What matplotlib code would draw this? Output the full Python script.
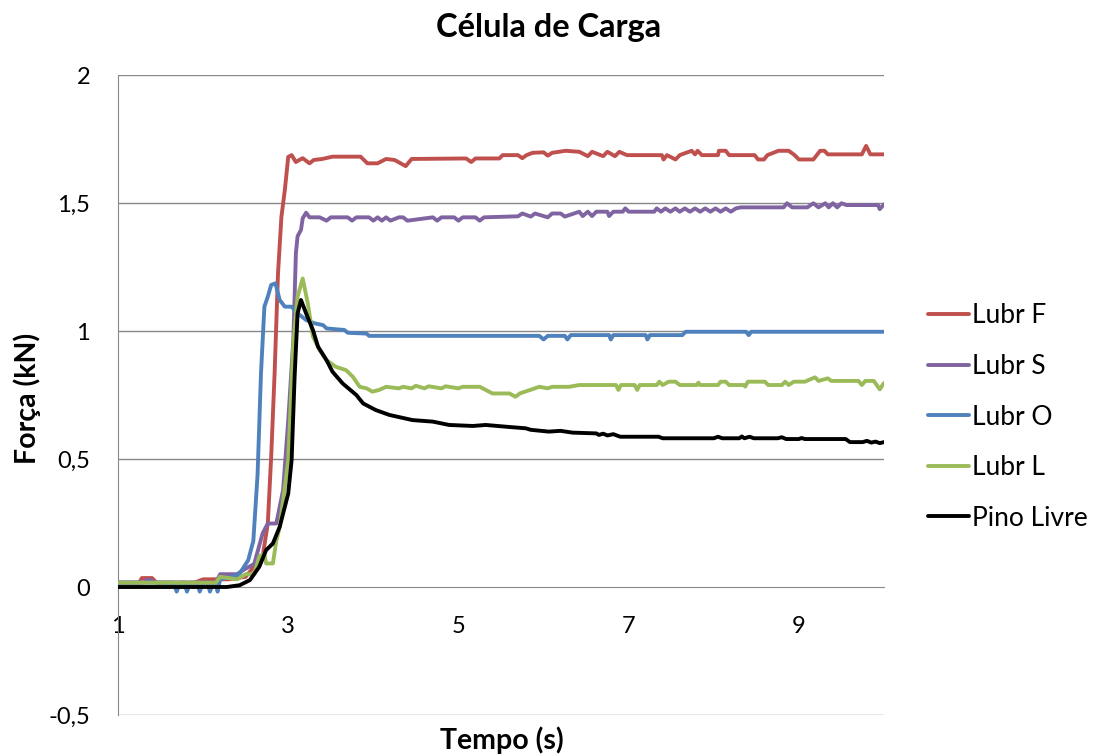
import matplotlib
matplotlib.use("Agg")
import matplotlib.pyplot as plt

plt.rcParams['font.family'] = ['Lato', 'DejaVu Sans']

# Lubr F
t_f = [1.00, 1.25, 1.28, 1.40, 1.45, 1.50, 1.90, 2.00, 2.30, 2.50, 2.70, 2.76, 2.80, 2.84, 2.88,
       2.92, 2.96, 3.00, 3.04, 3.09, 3.13, 3.17, 3.25, 3.30, 3.40, 3.52, 3.85, 3.93, 4.05, 4.15,
       4.25, 4.38, 4.45, 5.09, 5.15, 5.20, 5.48, 5.52, 5.70, 5.75, 5.80, 5.87, 6.00, 6.05, 6.10,
       6.26, 6.42, 6.52, 6.57, 6.70, 6.75, 6.84, 6.89, 6.98, 7.39, 7.41, 7.45, 7.55, 7.60, 7.74,
       7.78, 7.81, 7.86, 8.05, 8.06, 8.14, 8.18, 8.48, 8.52, 8.59, 8.63, 8.76, 8.88, 8.95, 9.00,
       9.17, 9.25, 9.30, 9.34, 9.74, 9.79, 9.84, 10.00]
v_f = [0.017, 0.017, 0.035, 0.035, 0.017, 0.017, 0.017, 0.03, 0.03, 0.04, 0.12, 0.248, 0.51, 0.835, 1.225,
       1.446, 1.55, 1.68, 1.687, 1.66, 1.668, 1.675, 1.655, 1.668, 1.672, 1.681, 1.681, 1.655, 1.655, 1.672,
       1.668, 1.644, 1.672, 1.674, 1.66, 1.674, 1.674, 1.687, 1.687, 1.675, 1.687, 1.696, 1.698, 1.685, 1.696,
       1.704, 1.700, 1.683, 1.700, 1.683, 1.700, 1.683, 1.700, 1.687, 1.687, 1.670, 1.687, 1.670, 1.687, 1.704,
       1.690, 1.704, 1.687, 1.687, 1.704, 1.704, 1.687, 1.687, 1.670, 1.670, 1.687, 1.704, 1.704, 1.687, 1.670,
       1.670, 1.704, 1.704, 1.690, 1.690, 1.723, 1.690, 1.690]

# Lubr S
t_s = [1.00, 1.30, 1.35, 1.45, 2.15, 2.20, 2.40, 2.47, 2.60, 2.70, 2.76, 2.86, 2.94, 3.00, 3.06,
       3.09, 3.11, 3.15, 3.17, 3.21, 3.25, 3.37, 3.45, 3.50, 3.70, 3.75, 3.80, 3.95, 4.00, 4.05,
       4.10, 4.15, 4.20, 4.30, 4.35, 4.40, 4.70, 4.75, 4.80, 4.95, 5.00, 5.05, 5.20, 5.25, 5.30,
       5.70, 5.75, 5.85, 5.90, 6.05, 6.10, 6.20, 6.25, 6.42, 6.46, 6.52, 6.57, 6.62, 6.75, 6.77,
       6.82, 6.93, 6.96, 7.00, 7.30, 7.33, 7.38, 7.43, 7.49, 7.55, 7.60, 7.66, 7.72, 7.78, 7.84,
       7.90, 7.96, 8.02, 8.08, 8.14, 8.20, 8.26, 8.32, 8.82, 8.86, 8.92, 9.10, 9.17, 9.23, 9.31,
       9.35, 9.40, 9.45, 9.50, 9.56, 9.93, 9.95, 10.00]
v_s = [0.017, 0.017, 0.03, 0.017, 0.017, 0.05, 0.05, 0.066, 0.09, 0.21, 0.248, 0.248, 0.379, 0.65, 0.965,
       1.303, 1.37, 1.395, 1.44, 1.462, 1.444, 1.444, 1.431, 1.444, 1.444, 1.431, 1.444, 1.444, 1.431, 1.444,
       1.431, 1.444, 1.431, 1.444, 1.444, 1.431, 1.444, 1.431, 1.444, 1.444, 1.431, 1.444, 1.444, 1.431, 1.444,
       1.448, 1.459, 1.447, 1.459, 1.444, 1.459, 1.459, 1.447, 1.466, 1.449, 1.466, 1.449, 1.466, 1.466, 1.449,
       1.466, 1.466, 1.479, 1.466, 1.466, 1.479, 1.466, 1.479, 1.466, 1.479, 1.466, 1.479, 1.466, 1.479, 1.466,
       1.479, 1.466, 1.479, 1.466, 1.479, 1.466, 1.479, 1.483, 1.483, 1.499, 1.483, 1.483, 1.499, 1.483, 1.499,
       1.483, 1.499, 1.483, 1.499, 1.492, 1.492, 1.476, 1.495]

# Lubr O
t_o = [1.00, 1.65, 1.69, 1.73, 1.78, 1.81, 1.85, 1.93, 1.96, 2.00, 2.05, 2.08, 2.12, 2.15, 2.17,
       2.20, 2.35, 2.43, 2.53, 2.59, 2.64, 2.68, 2.72, 2.76, 2.80, 2.85, 2.90, 2.96, 3.04, 3.11,
       3.21, 3.31, 3.41, 3.45, 3.66, 3.70, 3.92, 3.95, 5.95, 6.00, 6.05, 6.25, 6.28, 6.32, 6.77,
       6.79, 6.82, 7.20, 7.22, 7.25, 7.63, 7.67, 8.38, 8.41, 8.44, 10.00]
v_o = [0.017, 0.017, -0.018, 0.017, 0.017, -0.018, 0.017, 0.017, -0.018, 0.017, 0.017, -0.018, 0.017, 0.017, -0.018,
       0.03, 0.04, 0.053, 0.105, 0.18, 0.44, 0.835, 1.095, 1.134, 1.18, 1.186, 1.121, 1.095, 1.095, 1.069,
       1.043, 1.03, 1.023, 1.01, 1.004, 0.993, 0.99, 0.981, 0.981, 0.967, 0.981, 0.981, 0.967, 0.984, 0.984,
       0.967, 0.984, 0.984, 0.967, 0.984, 0.984, 0.997, 0.997, 0.984, 0.997, 0.997]

# Lubr L
t_l = [1.00, 2.15, 2.20, 2.40, 2.50, 2.60, 2.66, 2.72, 2.74, 2.82, 2.86, 2.90, 3.00, 3.06, 3.11,
       3.17, 3.23, 3.29, 3.37, 3.45, 3.56, 3.68, 3.76, 3.84, 3.92, 3.99, 4.07, 4.15, 4.30,
       4.35, 4.45, 4.50, 4.60, 4.65, 4.80, 4.85, 5.00, 5.05, 5.25, 5.40, 5.60, 5.67, 5.72, 5.95,
       6.05, 6.10, 6.30, 6.42, 6.85, 6.88, 6.91, 7.07, 7.10, 7.13, 7.33, 7.36, 7.40, 7.47, 7.55,
       7.60, 7.80, 7.82, 7.84, 8.05, 8.08, 8.14, 8.18, 8.35, 8.37, 8.40, 8.60, 8.64, 8.80, 8.84,
       8.88, 8.94, 9.07, 9.19, 9.23, 9.34, 9.38, 9.70, 9.74, 9.78, 9.88, 9.95, 10.00]
v_l = [0.017, 0.017, 0.04, 0.03, 0.05, 0.05, 0.12, 0.13, 0.092, 0.092, 0.18, 0.235, 0.496, 0.951, 1.134,
       1.205, 1.108, 0.978, 0.925, 0.886, 0.86, 0.847, 0.821, 0.782, 0.776, 0.763, 0.770, 0.782, 0.776,
       0.782, 0.776, 0.786, 0.776, 0.784, 0.776, 0.784, 0.776, 0.782, 0.782, 0.756, 0.756, 0.743, 0.756, 0.782,
       0.776, 0.782, 0.782, 0.789, 0.789, 0.770, 0.789, 0.789, 0.770, 0.789, 0.789, 0.802, 0.789, 0.802, 0.802,
       0.789, 0.789, 0.798, 0.789, 0.789, 0.802, 0.802, 0.789, 0.789, 0.783, 0.802, 0.802, 0.789, 0.789, 0.802,
       0.789, 0.802, 0.802, 0.819, 0.805, 0.815, 0.805, 0.805, 0.789, 0.805, 0.805, 0.772, 0.797]

# Pino Livre
t_p = [1.00, 2.28, 2.43, 2.55, 2.66, 2.74, 2.82, 2.90, 3.00, 3.04, 3.075, 3.11, 3.15, 3.21, 3.29,
       3.35, 3.45, 3.52, 3.64, 3.80, 3.88, 4.03, 4.19, 4.46, 4.70, 4.89, 5.17, 5.32, 5.60, 5.79,
       5.85, 6.06, 6.20, 6.34, 6.62, 6.65, 6.70, 6.75, 6.82, 6.90, 7.35, 7.40, 8.00, 8.05, 8.10,
       8.30, 8.33, 8.36, 8.42, 8.47, 8.75, 8.80, 8.85, 9.00, 9.03, 9.07, 9.55, 9.60, 9.75, 9.80,
       9.85, 9.90, 9.95, 10.00]
v_p = [0.000, 0.000, 0.007, 0.027, 0.079, 0.144, 0.17, 0.235, 0.365, 0.496, 0.821, 1.069, 1.121, 1.069, 1.004,
       0.939, 0.886, 0.841, 0.795, 0.75, 0.717, 0.691, 0.672, 0.652, 0.646, 0.633, 0.629, 0.633, 0.625, 0.62,
       0.614, 0.607, 0.610, 0.603, 0.600, 0.594, 0.599, 0.592, 0.597, 0.587, 0.587, 0.581, 0.581, 0.587, 0.581,
       0.581, 0.588, 0.581, 0.587, 0.581, 0.581, 0.585, 0.578, 0.578, 0.582, 0.578, 0.578, 0.566, 0.566, 0.571,
       0.564, 0.568, 0.562, 0.566]

series = [
    ("Lubr F", t_f, v_f, "#C0504D"),
    ("Lubr S", t_s, v_s, "#8064A2"),
    ("Lubr O", t_o, v_o, "#4F81BD"),
    ("Lubr L", t_l, v_l, "#9BBB59"),
    ("Pino Livre", t_p, v_p, "#000000"),
]

x_ticks = [1, 3, 5, 7, 9]
y_ticks = [-0.5, 0, 0.5, 1, 1.5, 2]
y_tick_labels = ["-0,5", "0", "0,5", "1", "1,5", "2"]

fig = plt.figure(figsize=(11.04, 7.56), dpi=100)
ax = fig.add_axes([118 / 1104, 1 - 715 / 756, (884 - 118) / 1104, (715 - 75) / 756])

grid_color = "#888888"
for y in y_ticks:
    if y != 0:
        ax.axhline(y, color=grid_color, lw=1.0, zorder=1)

for name, t, v, c in series:
    ax.plot(t, v, color=c, lw=2.8, label=name, zorder=3, solid_joinstyle="round", solid_capstyle="round")

ax.set_xlim(1, 10)
ax.set_ylim(-0.5, 2)
ax.spines["right"].set_visible(False)
ax.spines["top"].set_visible(False)
ax.spines["bottom"].set_position(("data", 0))
ax.spines["bottom"].set_color(grid_color)
ax.spines["left"].set_color(grid_color)
ax.spines["bottom"].set_zorder(2)

ax.set_xticks(x_ticks)
ax.set_xticklabels([str(x) for x in x_ticks])
ax.set_yticks(y_ticks)
ax.set_yticklabels(y_tick_labels)
ax.tick_params(axis="both", length=0, labelsize=17, colors="black")
ax.tick_params(axis="x", pad=21)
ax.tick_params(axis="y", pad=20)

fig.text(549 / 1104, 1 - 27 / 756, "Célula de Carga", ha="center", va="center",
         fontsize=23.5, fontweight="bold")
fig.text(502 / 1104, 1 - 740 / 756, "Tempo (s)", ha="center", va="center",
         fontsize=20.5, fontweight="bold")
fig.text(27 / 1104, 1 - 398 / 756, "Força (kN)", ha="center", va="center",
         rotation=90, fontsize=20.5, fontweight="bold")

handles, labels = ax.get_legend_handles_labels()
fig.legend(handles, labels, loc="center left", bbox_to_anchor=(928 / 1104, 1 - 417 / 756),
           frameon=False, fontsize=19, handlelength=1.55, handletextpad=0.1,
           labelspacing=0.97, borderaxespad=0, borderpad=0)

fig.savefig("out.png", dpi=100)
